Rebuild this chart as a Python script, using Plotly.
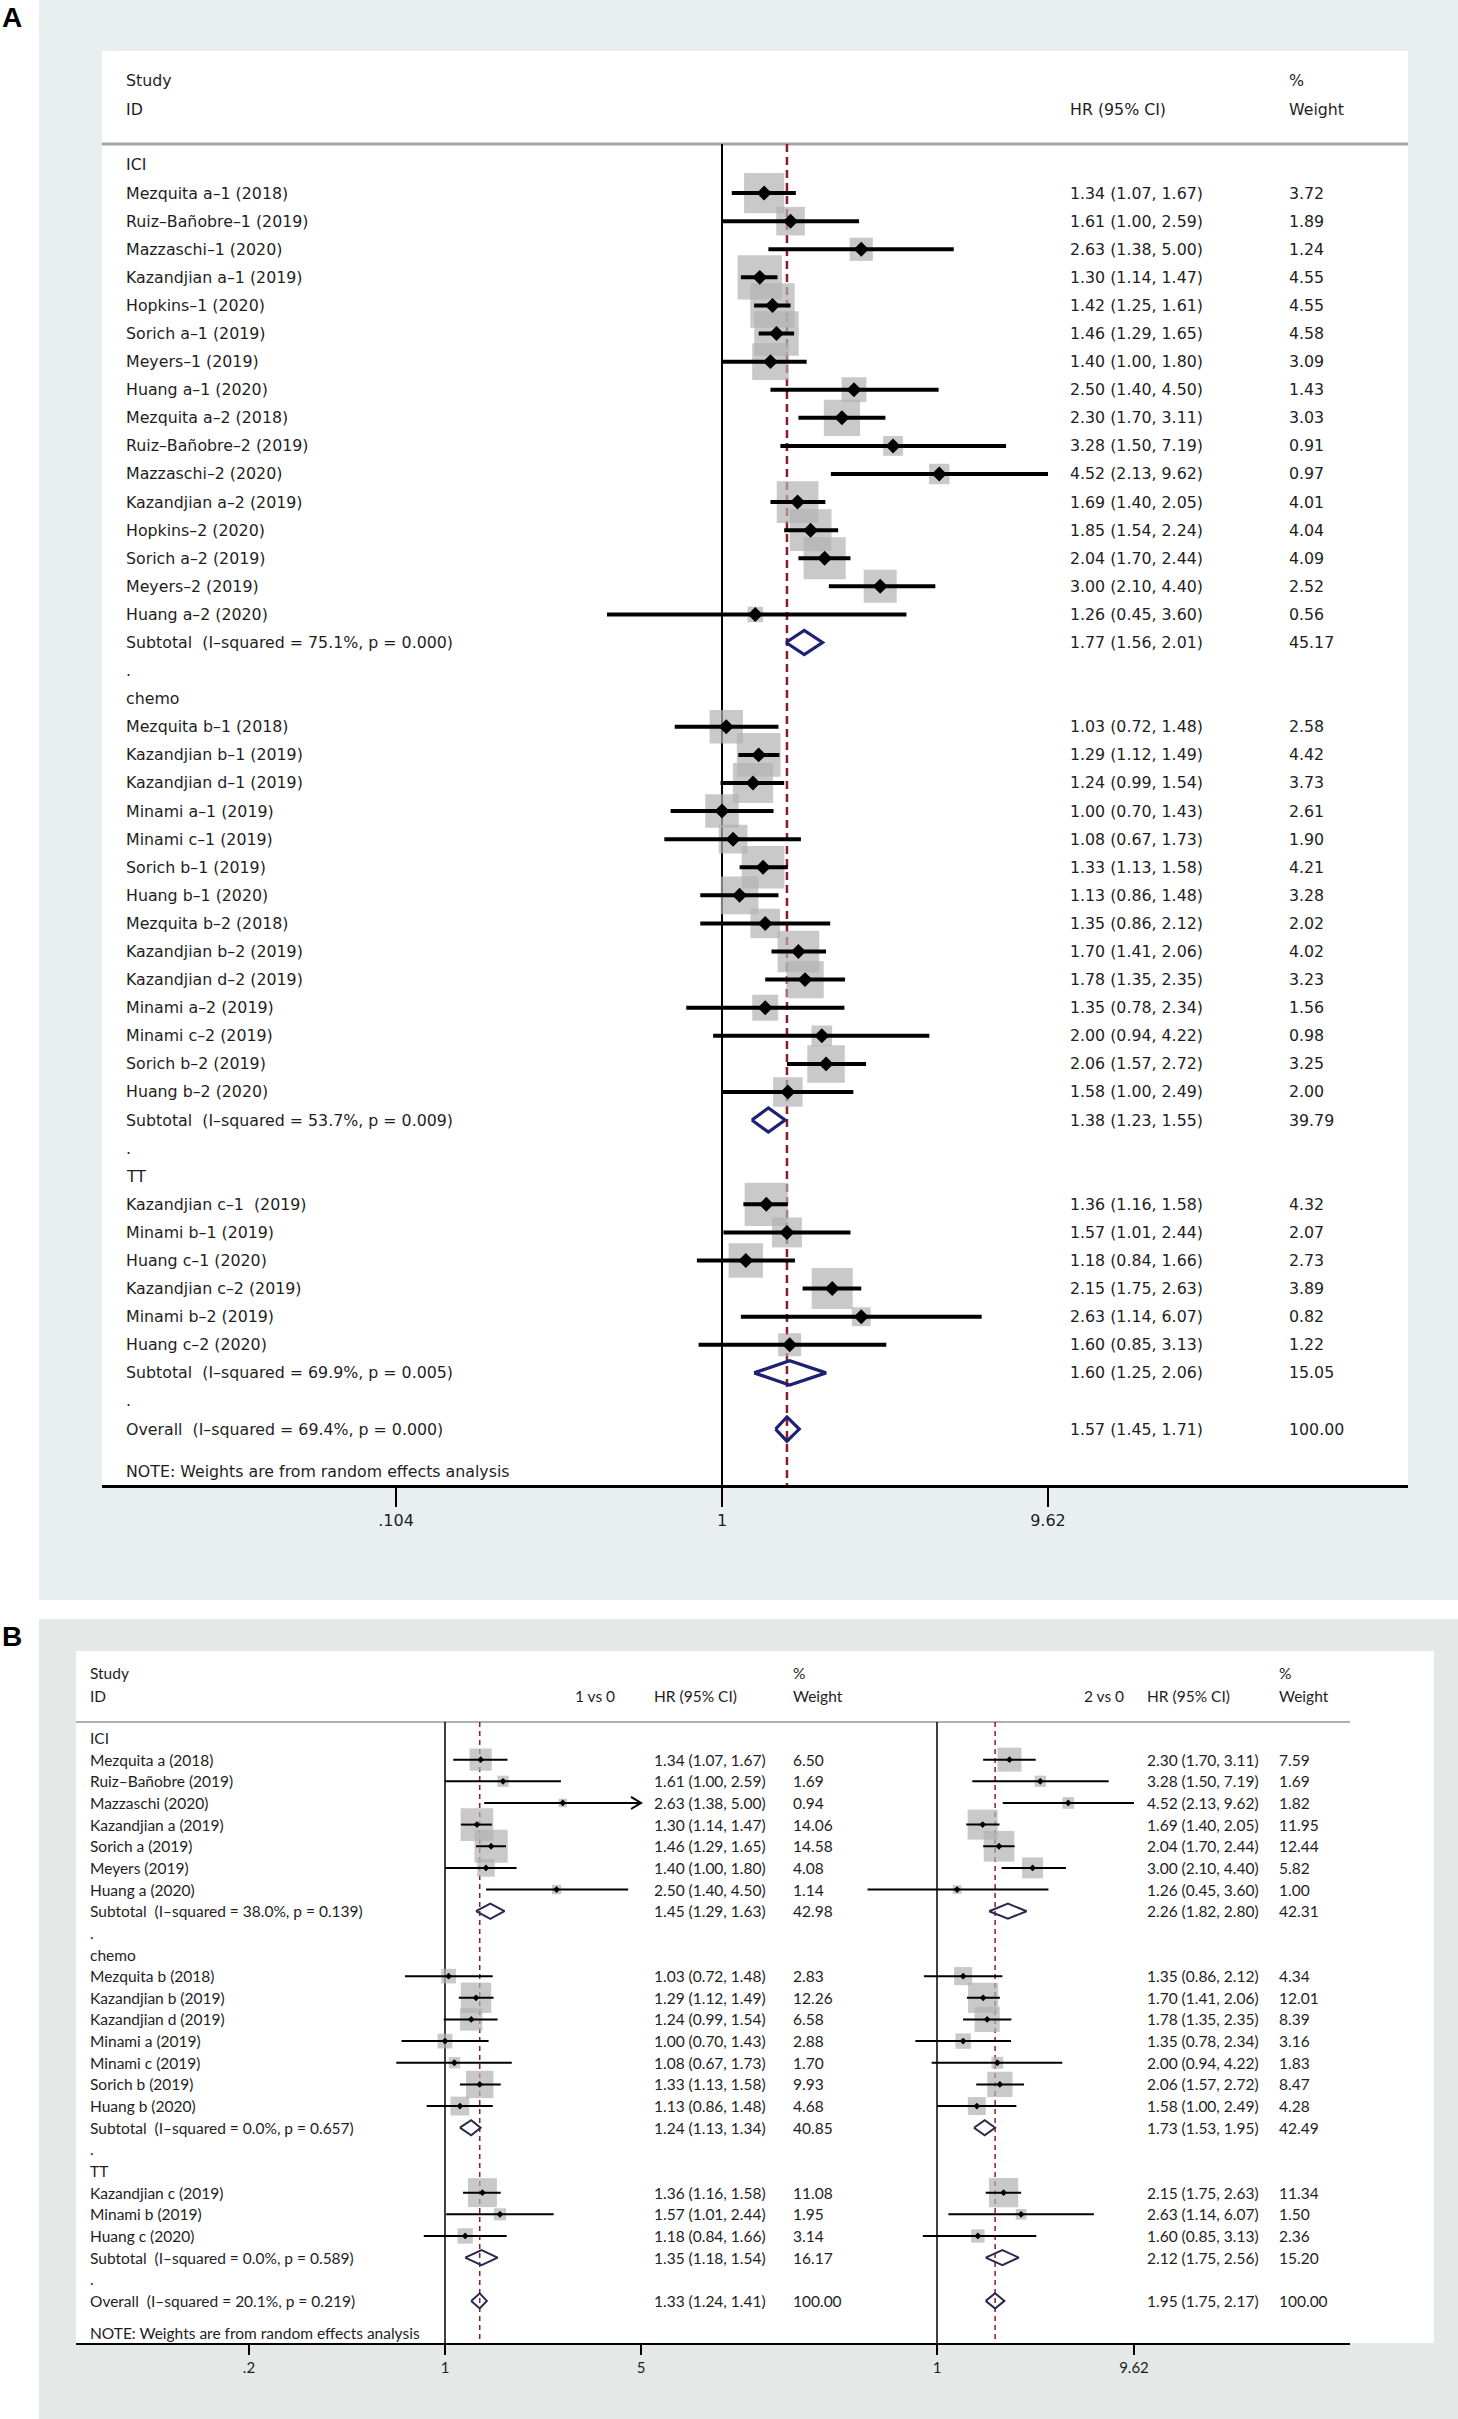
import math
import plotly.graph_objects as go

W, H = 1458, 2419

# ---------------- Panel A data ----------------
A_groups = ["ICI", "chemo", "TT"]

A_ici_study = ["Mezquita a–1 (2018)", "Ruiz–Bañobre–1 (2019)", "Mazzaschi–1 (2020)",
               "Kazandjian a–1 (2019)", "Hopkins–1 (2020)", "Sorich a–1 (2019)", "Meyers–1 (2019)",
               "Huang a–1 (2020)", "Mezquita a–2 (2018)", "Ruiz–Bañobre–2 (2019)", "Mazzaschi–2 (2020)",
               "Kazandjian a–2 (2019)", "Hopkins–2 (2020)", "Sorich a–2 (2019)", "Meyers–2 (2019)",
               "Huang a–2 (2020)"]
A_ici_hr = [1.34, 1.61, 2.63, 1.30, 1.42, 1.46, 1.40, 2.50, 2.30, 3.28, 4.52, 1.69, 1.85, 2.04, 3.00, 1.26]
A_ici_lo = [1.07, 1.00, 1.38, 1.14, 1.25, 1.29, 1.00, 1.40, 1.70, 1.50, 2.13, 1.40, 1.54, 1.70, 2.10, 0.45]
A_ici_hi = [1.67, 2.59, 5.00, 1.47, 1.61, 1.65, 1.80, 4.50, 3.11, 7.19, 9.62, 2.05, 2.24, 2.44, 4.40, 3.60]
A_ici_wt = [3.72, 1.89, 1.24, 4.55, 4.55, 4.58, 3.09, 1.43, 3.03, 0.91, 0.97, 4.01, 4.04, 4.09, 2.52, 0.56]

A_chemo_study = ["Mezquita b–1 (2018)", "Kazandjian b–1 (2019)", "Kazandjian d–1 (2019)",
                 "Minami a–1 (2019)", "Minami c–1 (2019)", "Sorich b–1 (2019)", "Huang b–1 (2020)",
                 "Mezquita b–2 (2018)", "Kazandjian b–2 (2019)", "Kazandjian d–2 (2019)",
                 "Minami a–2 (2019)", "Minami c–2 (2019)", "Sorich b–2 (2019)", "Huang b–2 (2020)"]
A_chemo_hr = [1.03, 1.29, 1.24, 1.00, 1.08, 1.33, 1.13, 1.35, 1.70, 1.78, 1.35, 2.00, 2.06, 1.58]
A_chemo_lo = [0.72, 1.12, 0.99, 0.70, 0.67, 1.13, 0.86, 0.86, 1.41, 1.35, 0.78, 0.94, 1.57, 1.00]
A_chemo_hi = [1.48, 1.49, 1.54, 1.43, 1.73, 1.58, 1.48, 2.12, 2.06, 2.35, 2.34, 4.22, 2.72, 2.49]
A_chemo_wt = [2.58, 4.42, 3.73, 2.61, 1.90, 4.21, 3.28, 2.02, 4.02, 3.23, 1.56, 0.98, 3.25, 2.00]

A_tt_study = ["Kazandjian c–1  (2019)", "Minami b–1 (2019)", "Huang c–1 (2020)",
              "Kazandjian c–2 (2019)", "Minami b–2 (2019)", "Huang c–2 (2020)"]
A_tt_hr = [1.36, 1.57, 1.18, 2.15, 2.63, 1.60]
A_tt_lo = [1.16, 1.01, 0.84, 1.75, 1.14, 0.85]
A_tt_hi = [1.58, 2.44, 1.66, 2.63, 6.07, 3.13]
A_tt_wt = [4.32, 2.07, 2.73, 3.89, 0.82, 1.22]

A_sub_label = ["Subtotal  (I–squared = 75.1%, p = 0.000)",
               "Subtotal  (I–squared = 53.7%, p = 0.009)",
               "Subtotal  (I–squared = 69.9%, p = 0.005)"]
A_sub_hr = [1.77, 1.38, 1.60]
A_sub_lo = [1.56, 1.23, 1.25]
A_sub_hi = [2.01, 1.55, 2.06]
A_sub_wt = [45.17, 39.79, 15.05]

A_overall_label = "Overall  (I–squared = 69.4%, p = 0.000)"
A_overall = [1.57, 1.45, 1.71, 100.00]

A_tick_vals = [0.104, 1, 9.62]
A_tick_text = [".104", "1", "9.62"]

# ---------------- Panel B data ----------------
B_groups = ["ICI", "chemo", "TT"]

B_ici_study = ["Mezquita a (2018)", "Ruiz–Bañobre (2019)", "Mazzaschi (2020)", "Kazandjian a (2019)",
               "Sorich a (2019)", "Meyers (2019)", "Huang a (2020)"]
B_ici_hr1 = [1.34, 1.61, 2.63, 1.30, 1.46, 1.40, 2.50]
B_ici_lo1 = [1.07, 1.00, 1.38, 1.14, 1.29, 1.00, 1.40]
B_ici_hi1 = [1.67, 2.59, 5.00, 1.47, 1.65, 1.80, 4.50]
B_ici_wt1 = [6.50, 1.69, 0.94, 14.06, 14.58, 4.08, 1.14]
B_ici_hr2 = [2.30, 3.28, 4.52, 1.69, 2.04, 3.00, 1.26]
B_ici_lo2 = [1.70, 1.50, 2.13, 1.40, 1.70, 2.10, 0.45]
B_ici_hi2 = [3.11, 7.19, 9.62, 2.05, 2.44, 4.40, 3.60]
B_ici_wt2 = [7.59, 1.69, 1.82, 11.95, 12.44, 5.82, 1.00]

B_chemo_study = ["Mezquita b (2018)", "Kazandjian b (2019)", "Kazandjian d (2019)", "Minami a (2019)",
                 "Minami c (2019)", "Sorich b (2019)", "Huang b (2020)"]
B_chemo_hr1 = [1.03, 1.29, 1.24, 1.00, 1.08, 1.33, 1.13]
B_chemo_lo1 = [0.72, 1.12, 0.99, 0.70, 0.67, 1.13, 0.86]
B_chemo_hi1 = [1.48, 1.49, 1.54, 1.43, 1.73, 1.58, 1.48]
B_chemo_wt1 = [2.83, 12.26, 6.58, 2.88, 1.70, 9.93, 4.68]
B_chemo_hr2 = [1.35, 1.70, 1.78, 1.35, 2.00, 2.06, 1.58]
B_chemo_lo2 = [0.86, 1.41, 1.35, 0.78, 0.94, 1.57, 1.00]
B_chemo_hi2 = [2.12, 2.06, 2.35, 2.34, 4.22, 2.72, 2.49]
B_chemo_wt2 = [4.34, 12.01, 8.39, 3.16, 1.83, 8.47, 4.28]

B_tt_study = ["Kazandjian c (2019)", "Minami b (2019)", "Huang c (2020)"]
B_tt_hr1 = [1.36, 1.57, 1.18]
B_tt_lo1 = [1.16, 1.01, 0.84]
B_tt_hi1 = [1.58, 2.44, 1.66]
B_tt_wt1 = [11.08, 1.95, 3.14]
B_tt_hr2 = [2.15, 2.63, 1.60]
B_tt_lo2 = [1.75, 1.14, 0.85]
B_tt_hi2 = [2.63, 6.07, 3.13]
B_tt_wt2 = [11.34, 1.50, 2.36]

B_sub_label = ["Subtotal  (I–squared = 38.0%, p = 0.139)",
               "Subtotal  (I–squared = 0.0%, p = 0.657)",
               "Subtotal  (I–squared = 0.0%, p = 0.589)"]
B_sub_hr1 = [1.45, 1.24, 1.35]
B_sub_lo1 = [1.29, 1.13, 1.18]
B_sub_hi1 = [1.63, 1.34, 1.54]
B_sub_wt1 = [42.98, 40.85, 16.17]
B_sub_hr2 = [2.26, 1.73, 2.12]
B_sub_lo2 = [1.82, 1.53, 1.75]
B_sub_hi2 = [2.80, 1.95, 2.56]
B_sub_wt2 = [42.31, 42.49, 15.20]

B_overall_label = "Overall  (I–squared = 20.1%, p = 0.219)"
B_overall1 = [1.33, 1.24, 1.41, 100.00]
B_overall2 = [1.95, 1.75, 2.17, 100.00]

B_tick_vals1 = [0.2, 1, 5]
B_tick_text1 = [".2", "1", "5"]
B_tick_vals2 = [1, 9.62]
B_tick_text2 = ["1", "9.62"]
B_comp_labels = ["1 vs 0", "2 vs 0"]

NOTE = "NOTE: Weights are from random effects analysis"

# ---------------- helpers ----------------
def pxx(x):
    return x / W


def pxy(y):
    return 1 - y / H


def nb(s):
    return s.replace("  ", " \u00a0")


def build_rows(group_names, group_data, sub_labels, sub_data, overall_label, overall_data):
    rows = []
    k = 0
    for g, name in enumerate(group_names):
        rows.append(("head", k, name, None))
        k += 1
        studies, comps = group_data[g]
        for i, s in enumerate(studies):
            rows.append(("study", k, s, [tuple(c[j][i] for j in range(4)) for c in comps]))
            k += 1
        rows.append(("sub", k, sub_labels[g], [tuple(c[j][g] for j in range(4)) for c in sub_data]))
        k += 1
        rows.append(("dot", k, ".", None))
        k += 1
    rows.append(("overall", k, overall_label, [tuple(c) for c in overall_data]))
    k += 1
    rows.append(("note", k + 0.5, NOTE, None))
    return rows


rowsA = build_rows(
    A_groups,
    [(A_ici_study, [(A_ici_hr, A_ici_lo, A_ici_hi, A_ici_wt)]),
     (A_chemo_study, [(A_chemo_hr, A_chemo_lo, A_chemo_hi, A_chemo_wt)]),
     (A_tt_study, [(A_tt_hr, A_tt_lo, A_tt_hi, A_tt_wt)])],
    A_sub_label, [(A_sub_hr, A_sub_lo, A_sub_hi, A_sub_wt)],
    A_overall_label, [A_overall])

rowsB = build_rows(
    B_groups,
    [(B_ici_study, [(B_ici_hr1, B_ici_lo1, B_ici_hi1, B_ici_wt1), (B_ici_hr2, B_ici_lo2, B_ici_hi2, B_ici_wt2)]),
     (B_chemo_study, [(B_chemo_hr1, B_chemo_lo1, B_chemo_hi1, B_chemo_wt1),
                      (B_chemo_hr2, B_chemo_lo2, B_chemo_hi2, B_chemo_wt2)]),
     (B_tt_study, [(B_tt_hr1, B_tt_lo1, B_tt_hi1, B_tt_wt1), (B_tt_hr2, B_tt_lo2, B_tt_hi2, B_tt_wt2)])],
    B_sub_label, [(B_sub_hr1, B_sub_lo1, B_sub_hi1, B_sub_wt1), (B_sub_hr2, B_sub_lo2, B_sub_hi2, B_sub_wt2)],
    B_overall_label, [B_overall1, B_overall2])

RED = "#8e1b2b"
GREY = "#b2b2b2"
TXT = "#1e1e1e"
FA = "DejaVu Sans"
FB = "Lato"

# panel styles (pixel layout)
stA = dict(yname="y", row0=165, step=28.09, ytop=144, ybot=1485, label_x=124, font=FA, fsize=15.8,
           sq=20.8, pt=11.5, ci_w=4, dia_h=0.43, dia_w=3.2, dia_col="#1c2173",
           ref_w=2, dash_w=2.5, dash="8px,5px", arrow_px=10, head_y=(81, 109),
           comps=[dict(xa="x", one=722, ppl=144, hr_x=1068, wt_x=1287, head=None, head_x=None, clip=None)])
stB = dict(yname="y2", row0=1738, step=21.65, ytop=1722, ybot=2343, label_x=88, font=FB, fsize=15.5,
           sq=8.7, pt=5.2, ci_w=2, dia_h=0.35, dia_w=2, dia_col="#2a2852",
           ref_w=1.5, dash_w=1.5, dash="5px,4px", arrow_px=10, head_y=(1673, 1696),
           comps=[dict(xa="x2", one=445, ppl=121.8, hr_x=652, wt_x=791, head=B_comp_labels[0], head_x=573,
                       clip=B_tick_vals1[-1]),
                  dict(xa="x3", one=937, ppl=87, hr_x=1145, wt_x=1277, head=B_comp_labels[1], head_x=1082,
                       clip=None)])

fig = go.Figure()
annotations = []


def krow(st, ypx):
    return (ypx - st["row0"]) / st["step"]


def draw_panel(rows, st):
    ktop, kbot = krow(st, st["ytop"]), krow(st, st["ybot"])
    yname = st["yname"]
    for c, cc in enumerate(st["comps"]):
        xa = cc["xa"]
        ov = [r for r in rows if r[0] == "overall"][0][3][c]
        base = dict(xaxis=xa, yaxis=yname, hoverinfo="skip", showlegend=False)
        fig.add_trace(go.Scatter(x=[1, 1], y=[ktop, kbot], mode="lines",
                                 line=dict(color="black", width=st["ref_w"]), **base))
        fig.add_trace(go.Scatter(x=[ov[0], ov[0]], y=[ktop, kbot], mode="lines",
                                 line=dict(color=RED, width=st["dash_w"], dash=st["dash"]), **base))
        studies = [r for r in rows if r[0] == "study"]
        hr = [r[3][c][0] for r in studies]
        lo = [r[3][c][1] for r in studies]
        hi = [r[3][c][2] for r in studies]
        wt = [r[3][c][3] for r in studies]
        ks = [r[1] for r in studies]
        fig.add_trace(go.Scatter(x=hr, y=ks, mode="markers",
                                 marker=dict(symbol="square", color=GREY,
                                             size=[st["sq"] * math.sqrt(w) for w in wt],
                                             line=dict(width=0)), **base))
        cx, cy = [], []
        for a, b, k in zip(lo, hi, ks):
            cx += [a, b, None]
            cy += [k, k, None]
        fig.add_trace(go.Scatter(x=cx, y=cy, mode="lines", line=dict(color="black", width=st["ci_w"]), **base))
        if cc["clip"] is not None:
            ax, ay = [], []
            f = math.exp(-st["arrow_px"] / cc["ppl"])
            for b, k in zip(hi, ks):
                if b >= cc["clip"]:
                    ax += [b * f, b, b * f, None]
                    ay += [k - 0.28, k, k + 0.28, None]
            if ax:
                fig.add_trace(go.Scatter(x=ax, y=ay, mode="lines",
                                         line=dict(color="black", width=st["ci_w"]), **base))
        fig.add_trace(go.Scatter(x=hr, y=ks, mode="markers",
                                 marker=dict(symbol="diamond", color="black", size=st["pt"],
                                             line=dict(width=0)), **base))
        for r in rows:
            if r[0] in ("sub", "overall"):
                e, a, b, _ = r[3][c]
                k = r[1]
                h = st["dia_h"]
                fig.add_trace(go.Scatter(x=[a, e, b, e, a], y=[k, k - h, k, k + h, k], mode="lines",
                                         line=dict(color=st["dia_col"], width=st["dia_w"]), **base))
    # text
    for r in rows:
        kind, k, label, vals = r
        annotations.append(dict(x=pxx(st["label_x"]), y=k, xref="paper", yref=yname, text=nb(label),
                                showarrow=False, xanchor="left", yanchor="middle",
                                font=dict(family=st["font"], size=st["fsize"], color=TXT)))
        if vals:
            for c, cc in enumerate(st["comps"]):
                e, a, b, w = vals[c]
                annotations.append(dict(x=pxx(cc["hr_x"]), y=k, xref="paper", yref=yname,
                                        text=f"{e:.2f} ({a:.2f}, {b:.2f})", showarrow=False,
                                        xanchor="left", yanchor="middle",
                                        font=dict(family=st["font"], size=st["fsize"], color=TXT)))
                annotations.append(dict(x=pxx(cc["wt_x"]), y=k, xref="paper", yref=yname,
                                        text=f"{w:.2f}", showarrow=False, xanchor="left", yanchor="middle",
                                        font=dict(family=st["font"], size=st["fsize"], color=TXT)))
    # headers
    y1, y2 = st["head_y"]

    def hdr(x, y, t):
        annotations.append(dict(x=pxx(x), y=pxy(y), xref="paper", yref="paper", text=t, showarrow=False,
                                xanchor="left", yanchor="middle",
                                font=dict(family=st["font"], size=st["fsize"], color=TXT)))
    hdr(st["label_x"], y1, "Study")
    hdr(st["label_x"], y2, "ID")
    for cc in st["comps"]:
        if cc["head"]:
            hdr(cc["head_x"], y2, cc["head"])
        hdr(cc["hr_x"], y2, "HR (95% CI)")
        hdr(cc["wt_x"], y1, "%")
        hdr(cc["wt_x"], y2, "Weight")


draw_panel(rowsA, stA)
draw_panel(rowsB, stB)

# panel letters
for t, y in (("A", 17), ("B", 1636)):
    annotations.append(dict(x=0, y=pxy(y), xref="paper", yref="paper", text=f"<b>{t}</b>", showarrow=False,
                            xanchor="left", yanchor="middle",
                            font=dict(family="Liberation Sans", size=28, color="black")))


def rect(x0, y0, x1, y1, color):
    return dict(type="rect", xref="paper", yref="paper", x0=pxx(x0), x1=pxx(x1), y0=pxy(y1), y1=pxy(y0),
                fillcolor=color, line=dict(width=0), layer="below")


def hline(x0, x1, y, color, width):
    return dict(type="line", xref="paper", yref="paper", x0=pxx(x0), x1=pxx(x1), y0=pxy(y), y1=pxy(y),
                line=dict(color=color, width=width), layer="below")


shapes = [
    rect(39, 0, W, 1600, "#e9eef1"),
    rect(102, 51, 1408, 1485, "#ffffff"),
    rect(39, 1619, W, H, "#e4e9e7"),
    rect(76, 1651, 1434, 2343, "#ffffff"),
    hline(102, 1408, 144, "#a6a6a6", 3),
    hline(76, 1350, 1722, "#b0b0b0", 2),
]


def log_range(left, right, one, ppl):
    return [(left - one) / ppl / math.log(10), (right - one) / ppl / math.log(10)]


def xaxis(dom, one, ppl, anchor, tv, tt, lw, tl, tw, fam, fs):
    return dict(type="log", domain=[pxx(dom[0]), pxx(dom[1])], range=log_range(dom[0], dom[1], one, ppl),
                anchor=anchor, showgrid=False, zeroline=False, showline=True, linewidth=lw, linecolor="black",
                ticks="outside", ticklen=tl, tickwidth=tw, tickcolor="black", tickvals=tv, ticktext=tt,
                tickfont=dict(family=fam, size=fs, color=TXT), fixedrange=True)


layout = dict(
    width=W, height=H, margin=dict(l=0, r=0, t=0, b=0), autosize=False,
    paper_bgcolor="white", plot_bgcolor="rgba(0,0,0,0)", showlegend=False,
    xaxis=xaxis((102, 1408), 722, 144, "y", A_tick_vals, A_tick_text, 3, 19, 2, FA, 16),
    yaxis=dict(domain=[pxy(1485), pxy(144)], range=[krow(stA, 1485), krow(stA, 144)], visible=False,
               fixedrange=True),
    xaxis2=xaxis((76, 866), 445, 121.8, "y2", B_tick_vals1, B_tick_text1, 2, 10, 1.5, FB, 15),
    xaxis3=xaxis((866, 1350), 937, 87, "y2", B_tick_vals2, B_tick_text2, 2, 10, 1.5, FB, 15),
    yaxis2=dict(domain=[pxy(2343), pxy(1722)], range=[krow(stB, 2343), krow(stB, 1722)], visible=False,
                fixedrange=True),
    shapes=shapes,
    annotations=annotations,
)
fig.update_layout(**layout)
fig.write_html("out.html", config={"displayModeBar": False},
               post_script="document.body.style.margin='0px';document.body.style.overflow='hidden';")
